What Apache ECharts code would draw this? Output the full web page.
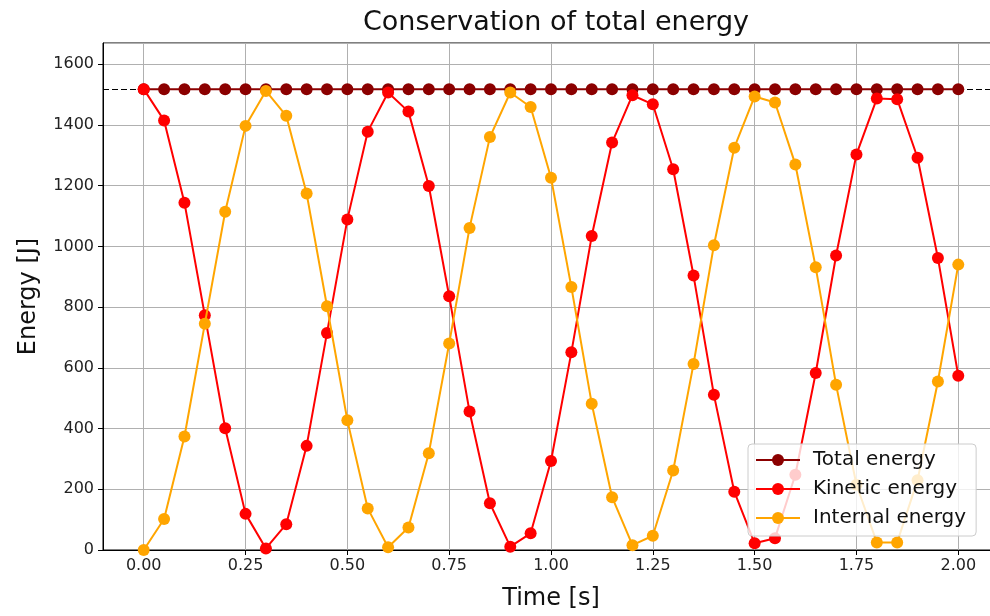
<!DOCTYPE html>
<html>
<head>
<meta charset="utf-8">
<script src="https://cdn.jsdelivr.net/npm/echarts@6/dist/echarts.min.js"></script>
<style>html,body{margin:0;padding:0;background:#fff;overflow:hidden}#chart{width:990px;height:616px}</style>
</head>
<body>
<div id="chart"></div>
<script>
const times = [0.00,0.05,0.10,0.15,0.20,0.25,0.30,0.35,0.40,0.45,0.50,0.55,0.60,0.65,0.70,0.75,0.80,0.85,0.90,0.95,1.00,1.05,1.10,1.15,1.20,1.25,1.30,1.35,1.40,1.45,1.50,1.55,1.60,1.65,1.70,1.75,1.80,1.85,1.90,1.95,2.00];
const totalEnergy = [1518,1518,1518,1518,1518,1518,1518,1518,1518,1518,1518,1518,1518,1518,1518,1518,1518,1518,1518,1518,1518,1518,1518,1518,1518,1518,1518,1518,1518,1518,1518,1518,1518,1518,1518,1518,1518,1518,1518,1518,1518];
const kineticEnergy = [1518,1415,1144,773,401,119,5,85,343,715,1089,1378,1507,1444,1199,836,456,154,11,55,293,651,1034,1342,1498,1468,1254,904,511,192,22,39,248,583,970,1303,1487,1485,1292,962,574];
const internalEnergy = [0,102,374,745,1114,1397,1512,1430,1174,803,427,137,9,74,319,680,1061,1360,1507,1459,1226,866,482,174,16,47,262,613,1004,1325,1494,1474,1270,931,544,215,25,25,230,555,940];
const xTicks = [0.00,0.25,0.50,0.75,1.00,1.25,1.50,1.75,2.00];
const referenceLevel = 1518;

const pair = arr => times.map((t, i) => [t, arr[i]]);
const font = 'DejaVu Sans';

const chart = echarts.init(document.getElementById('chart'), null, {renderer: 'canvas'});
chart.setOption({
  animation: false,
  backgroundColor: '#ffffff',
  title: {
    text: 'Conservation of total energy',
    left: 551, top: 4, textAlign: 'center',
    textStyle: {fontFamily: font, fontSize: 27, fontWeight: 'normal', color: '#111'}
  },
  grid: {
    left: 103, top: 43, width: 896, height: 507,
    outerBoundsMode: 'none', containLabel: false,
    show: true, borderColor: '#000', borderWidth: 1, backgroundColor: 'transparent'
  },
  legend: {
    orient: 'vertical', left: 748, top: 444, z: 20,
    padding: [5, 10, 7, 7],
    itemWidth: 44, itemHeight: 15, itemGap: 7,
    backgroundColor: 'rgba(255,255,255,0.8)',
    borderColor: '#cccccc', borderWidth: 1, borderRadius: 4,
    textStyle: {fontFamily: font, fontSize: 20, color: '#111', lineHeight: 22, padding: [0,0,0,8]},
    data: ['Total energy', 'Kinetic energy', 'Internal energy']
  },
  xAxis: {
    type: 'value', min: -0.1, max: 2.1,
    name: 'Time [s]', nameLocation: 'middle', nameGap: 37,
    nameTextStyle: {fontFamily: font, fontSize: 24, color: '#111'},
    axisLine: {show: true, onZero: false, lineStyle: {color: '#000', width: 1}},
    axisTick: {show: true, inside: false, length: 5, customValues: xTicks, lineStyle: {color: '#000'}},
    axisLabel: {customValues: xTicks, margin: 8, fontFamily: font, fontSize: 16, color: '#222',
      formatter: v => Number(v).toFixed(2)},
    splitLine: {show: true, lineStyle: {color: '#b0b0b0', width: 1}}
  },
  yAxis: {
    type: 'value', min: 0, max: 1670, interval: 200,
    name: 'Energy [J]', nameLocation: 'middle', nameGap: 62,
    nameTextStyle: {fontFamily: font, fontSize: 24, color: '#111'},
    axisLine: {show: true, onZero: false, lineStyle: {color: '#000', width: 1}},
    axisTick: {show: true, inside: false, length: 5, lineStyle: {color: '#000'}},
    axisLabel: {margin: 9, fontFamily: font, fontSize: 16, color: '#222',
      showMaxLabel: false, formatter: v => String(v)},
    splitLine: {show: true, lineStyle: {color: '#b0b0b0', width: 1}}
  },
  series: [
    {
      name: 'Total energy', type: 'line', data: pair(totalEnergy),
      symbol: 'circle', symbolSize: 12, showAllSymbol: true,
      lineStyle: {color: '#8b0000', width: 2}, itemStyle: {color: '#8b0000'},
      z: 3,
      markLine: {
        silent: true, symbol: 'none', label: {show: false},
        lineStyle: {color: '#000', type: [6, 3], width: 1.2},
        data: [{yAxis: referenceLevel}], z: 1
      }
    },
    {
      name: 'Kinetic energy', type: 'line', data: pair(kineticEnergy),
      symbol: 'circle', symbolSize: 12, showAllSymbol: true,
      lineStyle: {color: '#ff0000', width: 2}, itemStyle: {color: '#ff0000'},
      z: 4
    },
    {
      name: 'Internal energy', type: 'line', data: pair(internalEnergy),
      symbol: 'circle', symbolSize: 12, showAllSymbol: true,
      lineStyle: {color: '#ffa500', width: 2}, itemStyle: {color: '#ffa500'},
      z: 5
    }
  ]
});
</script>
</body>
</html>
